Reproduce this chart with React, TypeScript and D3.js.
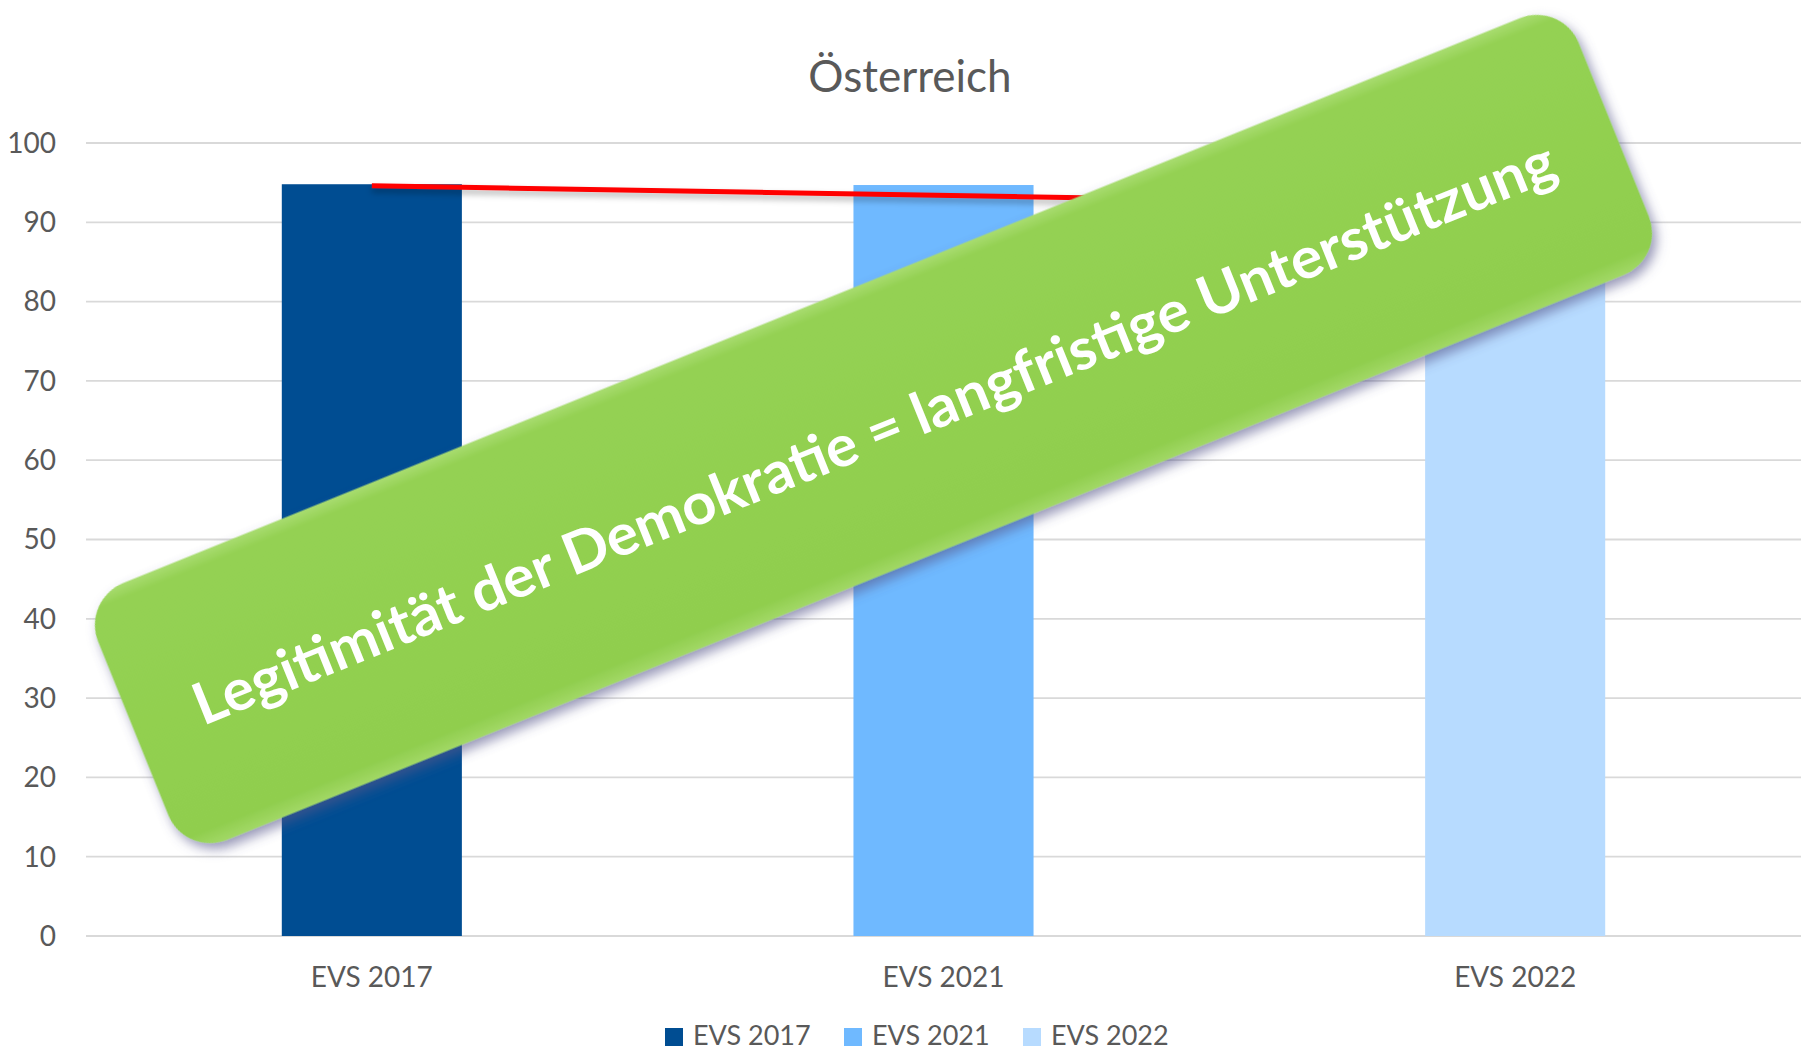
import React from "react";
import * as d3 from "d3";

// chart values
const categories = ["EVS 2017", "EVS 2021", "EVS 2022"];
const values = [94.8, 94.7, 92.0];
const yTicks = [0, 10, 20, 30, 40, 50, 60, 70, 80, 90, 100];
// hand-drawn red trend line, start and end
const trendCats = ["EVS 2017", "EVS 2022"];
const trendValues = [94.6, 92.2];

const title = "Österreich";
const bannerText = "Legitimität der Demokratie = langfristige Unterstützung";
const barColors = ["#004D92", "#6FB9FF", "#B7DBFF"];

const W = 1810;
const H = 1052;
const font = "Lato, 'Open Sans', sans-serif";
const textColor = "#595959";

const App = () => {
  const x = d3
    .scaleBand()
    .domain(categories)
    .range([86, 1801])
    .paddingInner(0.685)
    .paddingOuter(0.3425);
  const y = d3.scaleLinear().domain([0, 100]).range([936, 143]);
  const color = d3.scaleOrdinal(categories, barColors);

  const trend = d3
    .line()
    .x(d => x(d[0]) + x.bandwidth() / 2)
    .y(d => y(d[1]));
  const trendPts = trendCats.map((c, i) => [c, trendValues[i]]);

  // banner geometry (rotated rounded box over the chart)
  const bw = 1597;
  const bh = 277;
  const angle = -22.02;

  return (
    <svg
      width={W}
      height={H}
      style={{ position: "absolute", left: 0, top: 0, display: "block", background: "#fff" }}
    >
      <defs>
        <filter id="lineShadow" x="-5%" y="-200%" width="110%" height="500%">
          <feDropShadow dx="0" dy="4" stdDeviation="3" floodColor="#000" floodOpacity="0.3" />
        </filter>
        <filter id="bannerShadow" x="-10%" y="-30%" width="120%" height="160%">
          <feDropShadow dx="2" dy="7" stdDeviation="6" floodColor="#55558a" floodOpacity="0.6" />
        </filter>
        <linearGradient id="bevel" x1="0" y1="0" x2="0" y2="1">
          <stop offset="0%" stopColor="#a8dc70" />
          <stop offset="5%" stopColor="#94d153" />
          <stop offset="50%" stopColor="#92D050" />
          <stop offset="94%" stopColor="#90ce4e" />
          <stop offset="100%" stopColor="#a2d866" />
        </linearGradient>
      </defs>

      <text
        x={910}
        y={92}
        textAnchor="middle"
        fontFamily={font}
        fontSize={44}
        fill={textColor}
      >
        {title}
      </text>

      <g>
        {yTicks.map(t => (
          <g key={t}>
            <line x1={86} x2={1801} y1={y(t)} y2={y(t)} stroke="#D9D9D9" strokeWidth={1.8} />
            <text
              x={56}
              y={y(t)}
              dy="0.35em"
              textAnchor="end"
              fontFamily={font}
              fontSize={28}
              fill={textColor}
            >
              {t}
            </text>
          </g>
        ))}
      </g>

      <g>
        {categories.map((c, i) => (
          <rect
            key={c}
            x={x(c)}
            y={y(values[i])}
            width={x.bandwidth()}
            height={y(0) - y(values[i])}
            fill={color(c)}
          />
        ))}
      </g>

      <g>
        {categories.map(c => (
          <text
            key={c}
            x={x(c) + x.bandwidth() / 2}
            y={987}
            textAnchor="middle"
            fontFamily={font}
            fontSize={28}
            fill={textColor}
          >
            {c}
          </text>
        ))}
      </g>

      <path
        d={trend(trendPts)}
        stroke="#FF0000"
        strokeWidth={5}
        fill="none"
        filter="url(#lineShadow)"
      />

      <g>
        {categories.map((c, i) => (
          <g key={c} transform={`translate(${665 + i * 179},0)`}>
            <rect x={0} y={1028} width={18} height={18} fill={color(c)} />
            <text x={28} y={1045} fontFamily={font} fontSize={27} fill={textColor}>
              {c}
            </text>
          </g>
        ))}
      </g>

      <g transform={`translate(873.5,429) rotate(${angle})`}>
        <rect
          x={-bw / 2}
          y={-bh / 2}
          width={bw}
          height={bh}
          rx={45}
          ry={45}
          fill="url(#bevel)"
          filter="url(#bannerShadow)"
        />
        <text
          x={-733}
          y={24}
          fontFamily={font}
          fontWeight={700}
          fontSize={58}
          fill="#fff"
          textLength={1464}
          lengthAdjust="spacingAndGlyphs"
        >
          {bannerText}
        </text>
      </g>
    </svg>
  );
};

export default App;
